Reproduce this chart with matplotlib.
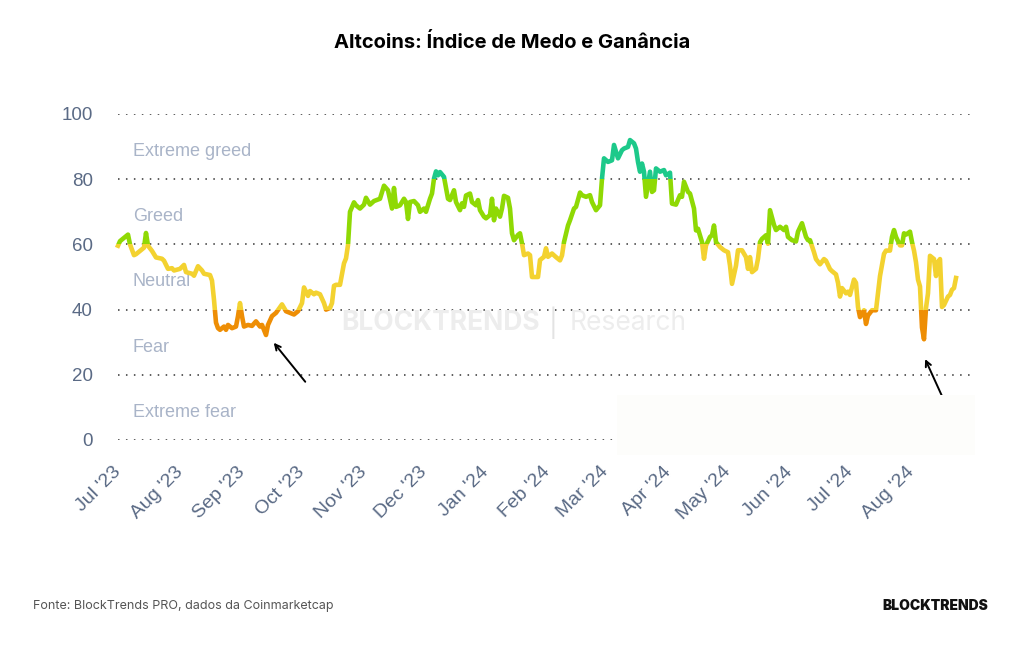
import matplotlib.pyplot as plt
import matplotlib.dates as mdates
from matplotlib.patches import Rectangle
from matplotlib.transforms import blended_transform_factory
import pandas as pd

# dados (dias desde 01/07/2023, índice 0-100)
start = pd.Timestamp('2023-07-01')
day = [0, 1, 3, 5, 6, 8, 9, 11, 13, 14, 15, 17, 19, 22, 23, 25, 27, 28, 31, 33,
       34, 37, 38, 40, 42, 43, 46, 47, 48, 49, 50, 51, 53, 54, 55, 57, 59, 60, 61, 62,
       63, 65, 67, 69, 71, 72, 74, 75, 77, 79, 82, 84, 86, 88, 90, 92, 93, 95, 96, 98,
       99, 101, 103, 104, 106, 107, 108, 109, 111, 113, 114, 115, 116, 118, 119, 121, 123, 124, 126, 128,
       131, 133, 135, 137, 138, 139, 141, 143, 144, 145, 146, 148, 150, 151, 153, 154, 156, 157, 158, 159,
       160, 161, 163, 165, 166, 168, 169, 171, 172, 173, 174, 176, 177, 179, 180, 181, 183, 184, 186, 187,
       188, 189, 191, 192, 193, 195, 196, 197, 198, 200, 201, 202, 203, 205, 206, 207, 208, 210, 211, 213,
       214, 215, 217, 219, 221, 222, 223, 225, 226, 228, 229, 231, 232, 234, 236, 237, 239, 241, 242, 243,
       245, 247, 248, 250, 252, 253, 255, 256, 258, 259, 260, 261, 262, 263, 264, 266, 267, 268, 269, 271,
       273, 274, 276, 277, 279, 281, 282, 283, 285, 286, 288, 289, 290, 292, 293, 294, 296, 297, 298, 299,
       301, 303, 305, 306, 307, 309, 310, 312, 314, 315, 316, 317, 319, 320, 321, 322, 324, 325, 326, 328,
       329, 331, 333, 334, 335, 337, 339, 340, 342, 344, 345, 346, 348, 349, 351, 353, 354, 356, 357, 359,
       360, 361, 362, 364, 365, 366, 368, 369, 370, 371, 373, 374, 375, 377, 379, 380, 381, 383, 384, 386,
       387, 388, 389, 391, 392, 393, 394, 396, 397, 398, 399, 400, 401, 402, 403, 404, 405, 406, 408, 409,
       410, 411, 412, 413, 415, 416, 417, 418, 419]
value = [59.6, 61, 62, 63, 60, 56.7, 57, 58, 59, 63.5, 59.6, 58, 56, 55.6, 55, 52.5, 52.7, 52, 52.5, 53.7,
         51.5, 51, 50.4, 53.3, 52, 51, 50.6, 48.9, 43, 36, 34.3, 33.8, 34.8, 33.8, 35.3, 34.3, 34.8, 38, 42, 38,
         34.8, 35.3, 35, 36.4, 34.8, 35.3, 32.2, 35.3, 38, 39, 41.6, 39.5, 39, 38.5, 39.5, 42, 46.8, 44.2, 45.7, 44.7,
         45.2, 44.7, 42, 40, 40.5, 42, 47.3, 47.6, 47.6, 54.2, 55.7, 59.8, 70, 72.9, 72, 71, 72.2, 74.3, 72.2, 73.3,
         74, 78, 76.6, 71, 77.3, 71.5, 72, 74, 73, 67.8, 73, 73.3, 72, 70, 71, 70, 74, 75.6, 80.2, 82.4,
         81.2, 82.2, 80.7, 74, 73.6, 76.6, 73, 70.5, 72.6, 71.5, 75, 75.6, 73, 72, 73.6, 70.5, 68.5, 68, 69, 74,
         67.4, 71, 68.5, 71, 74.9, 74.3, 71, 63.4, 61.3, 62.9, 63.4, 60.3, 56.7, 57.2, 56.7, 50, 50, 50, 55.2, 56.2,
         58.8, 56.2, 57.2, 56.1, 55.1, 56.6, 60.7, 65.8, 67.4, 71, 71.5, 75.9, 75.1, 74.6, 75.1, 73, 70.5, 72, 80.2, 86.4,
         85.3, 85.8, 90.5, 86.4, 88.9, 89.4, 89.9, 92, 91, 89.4, 85.3, 82.3, 84.8, 82.3, 74.6, 82.3, 76.1, 76.6, 83.3, 82.3,
         82.8, 81.2, 82, 72.5, 72.2, 75.1, 74.6, 79.2, 76.1, 75.6, 71, 64.3, 64.8, 60.7, 55.6, 59.7, 62.3, 62.8, 65.8, 60.7,
         59.2, 58.2, 57.6, 53.5, 47.9, 53.5, 58.2, 58.2, 56.1, 52.5, 56.1, 51.5, 52.5, 55.6, 60.7, 61.7, 62.8, 60.2, 70.5, 66,
         64.4, 65.4, 64.4, 65.4, 62.3, 61.3, 60.9, 63.9, 66.5, 62.3, 61.3, 61.3, 57.6, 55.5, 53.9, 55.5, 55, 52.4, 51.8, 50.8,
         48.2, 44, 46.6, 45, 45.5, 44.5, 49.2, 48.2, 40.8, 37.7, 39.8, 35.6, 38.2, 39.8, 39.8, 45, 50.3, 57.1, 58.1, 58.1,
         62.3, 64.4, 62.3, 59.7, 59.7, 63.4, 63, 63.9, 60.7, 58.1, 54.5, 49.2, 47.1, 34.5, 30.9, 40.5, 45, 56.5, 55.5, 50.3,
         54.5, 55.5, 40.8, 41.4, 44, 44.5, 46.1, 46.6, 49.7]

band_names = ['Extreme fear', 'Fear', 'Neutral', 'Greed', 'Extreme greed']
band_limits = [0, 20, 40, 60, 80, 100]
band_colors = ['#e8452c', '#ee8e05', '#f3d230', '#8fd904', '#1dc98a']
month_ticks = pd.date_range('2023-07-01', '2024-08-01', freq='MS')
tick_labels = [d.strftime("%b '%y") for d in month_ticks]

dates = start + pd.to_timedelta(day, unit='D')

fig = plt.figure(figsize=(10.24, 6.45), dpi=100)
ax = fig.add_axes([118 / 1024, 205 / 645, 857 / 1024, 326 / 645])
ax.set_xlim(start, start + pd.Timedelta(days=428.5))
ax.set_ylim(0, 100)

label_color = '#5a6a85'
for y in band_limits:
    ax.axhline(y, color='#333333', lw=1.1, linestyle=(0, (1, 4.2)), zorder=1)

# nomes das zonas
tr = blended_transform_factory(ax.transAxes, ax.transData)
for i, name in enumerate(band_names):
    ax.text(0.0175, band_limits[i] + 8.5, name, transform=tr, ha='left', va='center',
            fontsize=13, color='#a9b4c8', family='Liberation Sans', zorder=2)

# marca d'água
ax.text(0.492, 0.359, 'BLOCKTRENDS', transform=ax.transAxes, ha='right', va='center',
        fontsize=19, fontweight='bold', color='#ededed', family='Inter', zorder=2)
ax.text(0.508, 0.359, '|', transform=ax.transAxes, ha='center', va='center',
        fontsize=19, color='#e3e3e3', family='Inter', zorder=2)
ax.text(0.527, 0.359, 'Research', transform=ax.transAxes, ha='left', va='center',
        fontsize=19, color='#ededed', family='Inter', zorder=2)

# linha colorida por zona
xnum = mdates.date2num(dates)
for lo, hi, c in zip(band_limits[:-1], band_limits[1:], band_colors):
    ln, = ax.plot(dates, value, color=c, lw=3.3, solid_joinstyle='round', zorder=3)
    clip = Rectangle((xnum[0] - 20, lo), 500, hi - lo, transform=ax.transData)
    ln.set_clip_path(clip)

# setas
ax.annotate('', xy=(start + pd.Timedelta(days=77), 30.5), xytext=(start + pd.Timedelta(days=94.5), 17.2),
            arrowprops=dict(arrowstyle='->', color='black', lw=1.4), zorder=4)
ax.annotate('', xy=(start + pd.Timedelta(days=403), 25.6), xytext=(start + pd.Timedelta(days=414.5), 10.1),
            arrowprops=dict(arrowstyle='->', color='black', lw=1.4), zorder=4)

ax.set_yticks(band_limits)
ax.set_yticklabels([str(v) for v in band_limits], family='Liberation Sans', fontsize=13.5, color=label_color)
ax.set_xticks(month_ticks)
ax.set_xticklabels(tick_labels, rotation=45, ha='right', va='center', rotation_mode='anchor',
                   family='Liberation Sans', fontsize=14, color=label_color)
ax.tick_params(axis='y', length=0, pad=18)
ax.tick_params(axis='x', length=0, pad=21)
for s in ax.spines.values():
    s.set_visible(False)

# faixa clara que cobre o canto inferior direito
fig.patches.append(Rectangle((617 / 1024, 190 / 645), 358 / 1024, 60 / 645, transform=fig.transFigure,
                             facecolor='#fdfdfb', edgecolor='none', zorder=5))

fig.text(0.5, 1 - 43 / 645, 'Altcoins: Índice de Medo e Ganância', ha='center', va='center',
         fontsize=14.5, fontweight='bold', family='Inter', color='black')
fig.text(33 / 1024, 1 - 606 / 645, 'Fonte: BlockTrends PRO, dados da Coinmarketcap', ha='left', va='center',
         fontsize=9, family='Inter', color='#555555')
fig.text(988 / 1024, 1 - 606 / 645, 'BLOCKTRENDS', ha='right', va='center',
         fontsize=10, fontweight='black', family='Inter', color='#111111')

fig.savefig('out.png', dpi=100, facecolor='white')
